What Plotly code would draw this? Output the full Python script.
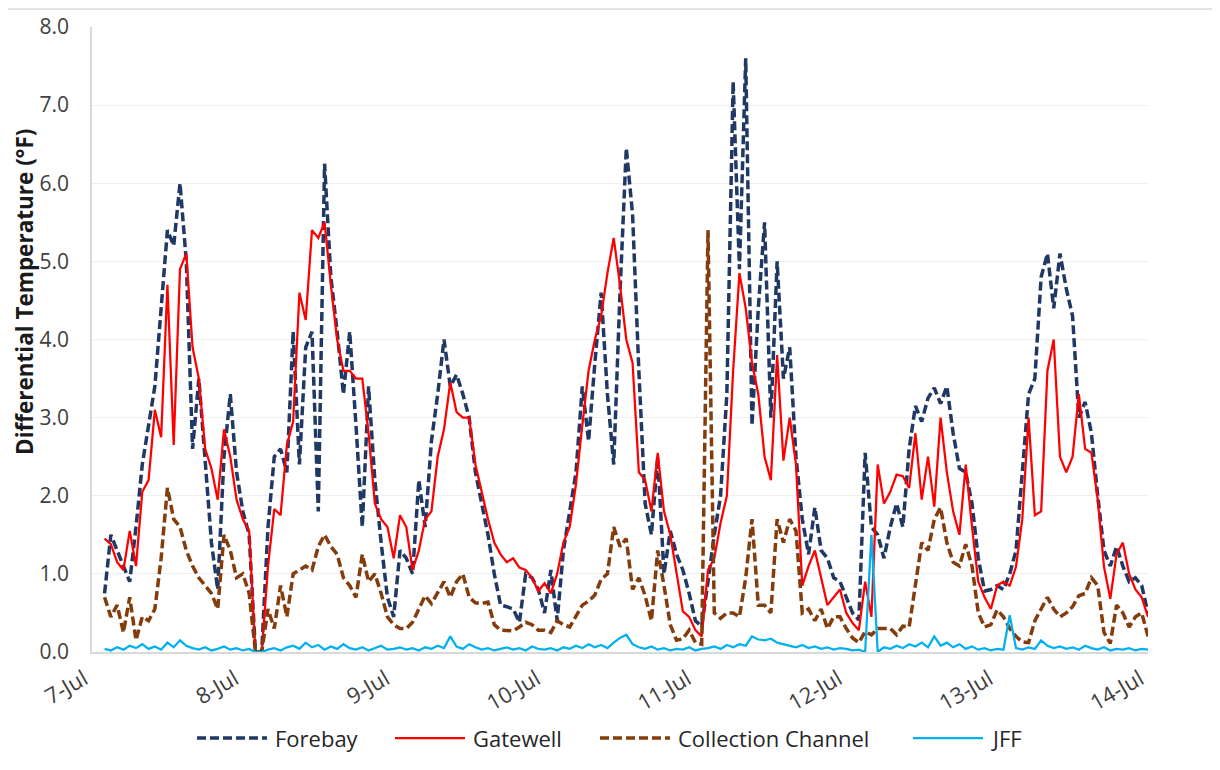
import plotly.graph_objects as go
import pandas as pd

# Hourly readings, 7-Jul 02:00 through 14-Jul 00:00
forebay = [
    0.75, 1.5, 1.3, 1.1, 0.9, 1.6, 2.4, 2.9, 3.4, 4.4, 5.4, 5.2, 6.0, 5.0, 2.6, 3.5, 2.5, 1.4, 0.8, 2.5, 3.3, 2.3, 1.8, 1.5,
    0.0, 0.0, 1.6, 2.5, 2.6, 2.3, 4.1, 2.4, 3.9, 4.1, 1.8, 6.25, 4.8, 4.1, 3.3, 4.1, 2.9, 1.6, 3.4, 2.2, 1.4, 0.7, 0.45, 1.3,
    1.2, 1.0, 2.2, 1.6, 2.7, 3.3, 4.0, 3.4, 3.55, 3.3, 3.0, 2.3, 1.9, 1.5, 1.0, 0.6, 0.58, 0.55, 0.38, 1.0, 0.95, 0.8, 0.5, 1.05,
    0.4, 1.3, 1.8, 2.3, 3.4, 2.7, 3.7, 4.6, 3.3, 2.4, 4.6, 6.45, 5.6, 3.6, 1.9, 1.5, 2.5, 1.0, 1.55, 1.25, 1.05, 0.75, 0.4, 0.33,
    0.9, 1.5, 2.0, 3.3, 7.3, 4.9, 7.6, 2.9, 4.4, 5.5, 3.0, 5.0, 3.5, 3.9, 2.5, 1.7, 1.25, 1.85, 1.3, 1.2, 0.95, 0.9, 0.7, 0.5,
    0.41, 2.55, 1.6, 1.5, 1.2, 1.6, 1.9, 1.6, 2.6, 3.15, 2.95, 3.25, 3.38, 3.18, 3.4, 2.8, 2.35, 2.3, 1.9, 1.2, 0.78, 0.8, 0.85, 0.8,
    1.0, 1.3, 2.3, 3.3, 3.5, 4.8, 5.1, 4.4, 5.1, 4.65, 4.3, 3.0, 3.2, 2.8, 2.0, 1.3, 1.1, 1.35, 1.1, 0.9, 0.95, 0.85, 0.5,
]

gatewell = [
    1.45, 1.38, 1.15, 1.05, 1.55, 1.1, 2.05, 2.2, 3.1, 2.75, 4.7, 2.65, 4.9, 5.1, 3.9, 3.5, 2.6, 2.35, 1.95, 2.85, 2.5, 1.95, 1.7, 1.55,
    0.0, 0.0, 1.1, 1.83, 1.75, 2.65, 2.95, 4.6, 4.25, 5.4, 5.3, 5.5, 4.7, 4.0, 3.6, 3.6, 3.5, 3.5, 2.8, 1.9, 1.7, 1.6, 1.2, 1.75,
    1.6, 1.05, 1.3, 1.7, 1.8, 2.5, 2.85, 3.45, 3.07, 3.0, 3.0, 2.4, 2.05, 1.7, 1.4, 1.25, 1.15, 1.2, 1.08, 1.05, 0.95, 0.78, 0.88, 0.75,
    1.0, 1.4, 1.6, 2.15, 2.9, 3.6, 4.0, 4.3, 4.85, 5.3, 4.7, 4.0, 3.7, 2.3, 2.2, 1.8, 2.55, 1.8, 1.5, 1.0, 0.52, 0.45, 0.28, 0.2,
    1.05, 1.2, 1.65, 2.0, 3.6, 4.85, 4.4, 3.7, 3.3, 2.5, 2.2, 3.8, 2.45, 3.0, 2.4, 0.85, 1.1, 1.3, 0.95, 0.6, 0.7, 0.8, 0.5, 0.37,
    0.28, 0.9, 0.45, 2.4, 1.9, 2.05, 2.27, 2.25, 2.1, 2.8, 1.95, 2.5, 1.86, 3.0, 2.3, 1.8, 1.5, 2.4, 1.6, 0.9, 0.7, 0.55, 0.85, 0.9,
    0.85, 1.09, 1.7, 3.0, 1.75, 1.8, 3.6, 4.0, 2.5, 2.3, 2.5, 3.3, 2.6, 2.55, 1.95, 1.09, 0.68, 1.25, 1.4, 1.0, 0.8, 0.7, 0.45,
]

collection = [
    0.7, 0.45, 0.6, 0.25, 0.7, 0.15, 0.45, 0.4, 0.55, 1.2, 2.1, 1.7, 1.6, 1.3, 1.1, 0.95, 0.85, 0.75, 0.55, 1.5, 1.3, 0.95, 1.0, 0.75,
    0.0, 0.0, 0.55, 0.3, 0.85, 0.45, 1.0, 1.05, 1.1, 1.05, 1.35, 1.5, 1.35, 1.25, 0.95, 0.85, 0.7, 1.25, 0.9, 1.0, 0.75, 0.45, 0.35, 0.3,
    0.3, 0.38, 0.55, 0.72, 0.62, 0.75, 0.9, 0.7, 0.9, 1.0, 0.7, 0.63, 0.62, 0.64, 0.35, 0.28, 0.27, 0.27, 0.32, 0.38, 0.35, 0.28, 0.28, 0.25,
    0.4, 0.35, 0.32, 0.45, 0.6, 0.65, 0.73, 0.93, 1.0, 1.6, 1.35, 1.45, 0.8, 0.95, 0.72, 0.4, 1.3, 0.85, 0.35, 0.15, 0.17, 0.28, 0.12, 0.1,
    5.4, 0.5, 0.43, 0.5, 0.5, 0.45, 0.95, 1.7, 0.6, 0.6, 0.5, 1.7, 1.4, 1.7, 1.55, 0.5, 0.55, 0.4, 0.55, 0.3, 0.45, 0.45, 0.3, 0.18,
    0.12, 0.26, 0.22, 0.3, 0.3, 0.3, 0.22, 0.33, 0.32, 0.85, 1.4, 1.3, 1.7, 1.85, 1.4, 1.15, 1.1, 1.38, 1.1, 0.5, 0.32, 0.35, 0.54, 0.45,
    0.3, 0.2, 0.13, 0.12, 0.4, 0.55, 0.7, 0.55, 0.45, 0.5, 0.58, 0.72, 0.75, 0.95, 0.85, 0.25, 0.11, 0.6, 0.5, 0.32, 0.45, 0.5, 0.2,
]

jff = [
    0.04, 0.02, 0.06, 0.03, 0.08, 0.05, 0.1, 0.04, 0.07, 0.03, 0.12, 0.06, 0.15, 0.08, 0.05, 0.03, 0.06, 0.02, 0.04, 0.07, 0.03, 0.05, 0.02, 0.04,
    0.0, 0.0, 0.03, 0.05, 0.02, 0.06, 0.08, 0.04, 0.12, 0.06, 0.09, 0.03, 0.07, 0.04, 0.1, 0.05, 0.03, 0.06, 0.02, 0.05, 0.08, 0.03, 0.04, 0.06,
    0.03, 0.05, 0.02, 0.06, 0.04, 0.08, 0.05, 0.2, 0.07, 0.04, 0.1, 0.06, 0.03, 0.05, 0.02, 0.04, 0.06, 0.03, 0.05, 0.02, 0.07, 0.04, 0.03, 0.05,
    0.02, 0.06, 0.04, 0.08, 0.05, 0.1, 0.06, 0.09, 0.05, 0.12, 0.18, 0.22, 0.1, 0.06, 0.04, 0.07, 0.03, 0.05, 0.02, 0.04, 0.03, 0.06, 0.02, 0.04,
    0.05, 0.07, 0.04, 0.09, 0.06, 0.1, 0.08, 0.2, 0.16, 0.15, 0.17, 0.12, 0.1, 0.08, 0.06, 0.09, 0.05, 0.07, 0.04, 0.06, 0.03, 0.05, 0.04, 0.02,
    0.03, 0.0, 1.5, 0.0, 0.06, 0.04, 0.08, 0.05, 0.1, 0.07, 0.12, 0.06, 0.2, 0.08, 0.12, 0.06, 0.1, 0.04, 0.07, 0.03, 0.05, 0.02, 0.04, 0.03,
    0.47, 0.05, 0.03, 0.06, 0.04, 0.15, 0.08, 0.05, 0.07, 0.04, 0.06, 0.03, 0.08, 0.05, 0.03, 0.06, 0.02, 0.04, 0.03, 0.05, 0.02, 0.04, 0.03,
]

series_names = ["Forebay", "Gatewell", "Collection Channel", "JFF"]
y_title = "Differential Temperature (°F)"
x_start, x_end = "2019-07-07", "2019-07-14"

times = pd.date_range("2019-07-07 02:00", periods=len(forebay), freq="h")

fig = go.Figure()
styles = [
    dict(color="#1F3864", width=3.5, dash="9px,4px"),
    dict(color="#FF0000", width=2.25),
    dict(color="#843C0C", width=3.5, dash="9px,4px"),
    dict(color="#00B0F0", width=2.25),
]
for name, vals, st in zip(series_names, [forebay, gatewell, collection, jff], styles):
    fig.add_trace(go.Scatter(x=times, y=vals, mode="lines", name=name, line=st, showlegend=False))

# Legend drawn as keys + labels below the plot (Excel-style long keys)
PLOT_L, PLOT_W, PLOT_B, PLOT_H = 92.0, 1056.0, 652.0, 625.0
def px(x):
    return (x - PLOT_L) / PLOT_W
legend_y = (PLOT_B - 738) / PLOT_H
key_x = [197, 395, 600, 913]
shapes = []
annotations = []
for name, st, kx in zip(series_names, styles, key_x):
    shapes.append(dict(type="line", xref="paper", yref="paper", x0=px(kx), x1=px(kx + 70),
                       y0=legend_y, y1=legend_y, line=dict(color=st["color"], width=st["width"],
                                                           dash=st.get("dash", "solid"))))
    annotations.append(dict(text=name, xref="paper", yref="paper", x=px(kx + 76), y=legend_y,
                            xanchor="left", yanchor="middle", showarrow=False,
                            font=dict(size=22, color="#262626")))

annotations.append(dict(text="<b>" + y_title + "</b>", textangle=-90, xref="paper", yref="paper",
                        x=px(24), y=(PLOT_B - 292) / PLOT_H, xanchor="center", yanchor="middle",
                        showarrow=False, font=dict(size=22.5, color="#1a1a1a")))
shapes.append(dict(type="line", xref="paper", yref="paper", x0=px(0), x1=px(1230),
                   y0=1 + 18 / PLOT_H, y1=1 + 18 / PLOT_H, line=dict(color="#D9D9D9", width=1.5)))

fig.update_layout(
    width=1220, height=770,
    margin=dict(l=84, r=80, t=19, b=126),
    paper_bgcolor="white", plot_bgcolor="white",
    font=dict(family="Open Sans", size=21, color="#404040"),
    showlegend=False,
    xaxis=dict(type="date", range=[x_start, x_end], dtick=86400000, tickformat="%-d-%b",
               tickangle=-30, showgrid=False, showline=True, linecolor="#D9D9D9", linewidth=1.5,
               ticks="", tickfont=dict(size=22, color="#404040"), ticklabelstandoff=4,
               ticklabelshift=-8, zeroline=False, automargin=False),
    yaxis=dict(range=[0, 8], dtick=1, tickformat=".1f", showgrid=True, gridcolor="#F0F0F0",
               showline=True, linecolor="#D9D9D9", linewidth=1.5, zeroline=False, ticks="",
               tickfont=dict(size=21, color="#404040"), ticklabelstandoff=17, automargin=False),
    annotations=annotations,
    shapes=shapes,
)

fig.write_html("out.html")
